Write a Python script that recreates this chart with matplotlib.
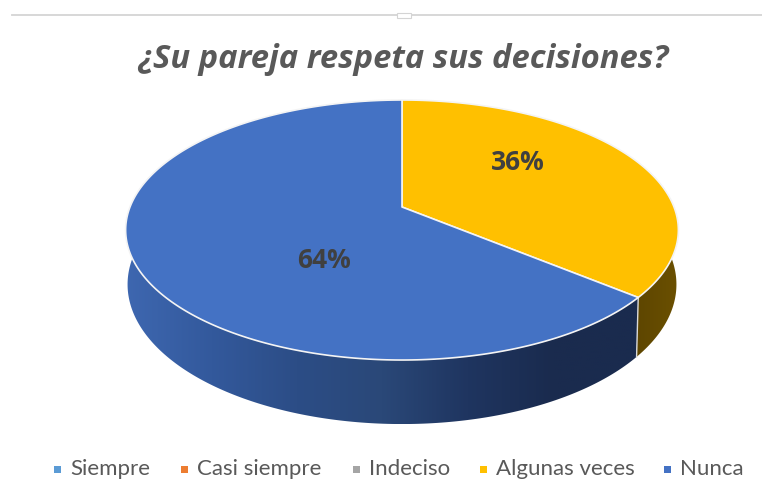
import numpy as np
import matplotlib
matplotlib.use('Agg')
import matplotlib.pyplot as plt
from matplotlib.colors import LinearSegmentedColormap
from matplotlib.patches import Polygon

title = '¿Su pareja respeta sus decisiones?'
categories = ['Siempre', 'Casi siempre', 'Indeciso', 'Algunas veces', 'Nunca']
values = [0, 0, 0, 36, 64]
colors = ['#5B9BD5', '#ED7D31', '#A5A5A5', '#FFC000', '#4472C4']
legend_x = [57, 184, 356, 483, 667]

# perspective of the pie top, fitted by eye on the reference
cx, cy = 402, 207
R = 272
c = 0.177
a = -89.3
depth = 52.7


def top_rim(theta):
    # theta runs clockwise from 12 o'clock
    u, v = np.sin(theta), np.cos(theta)
    d = 1 + c * v
    return cx + R * u / d, (a * v + cy) / d


def low_rim(theta):
    x, y = top_rim(theta)
    return cx + (x - cx) * 0.993, y + depth / (1 + c * np.cos(theta))


fig = plt.figure(figsize=(7.62, 4.8), dpi=100)
ax = fig.add_axes([0, 0, 1, 1])
ax.set_xlim(0, 762)
ax.set_ylim(480, 0)
ax.axis('off')

# thin frame line on top with the little handle
ax.plot([12, 762], [14.5, 14.5], color='#d4d4d4', lw=1.3, zorder=1)
ax.add_patch(plt.Rectangle((397, 13), 14, 5, fc='white', ec='#d4d4d4', lw=0.8, zorder=2))

side_cmaps = {
    '#FFC000': LinearSegmentedColormap.from_list('s1', ['#5e4600', '#6b5000']),
    '#4472C4': LinearSegmentedColormap.from_list('s2', ['#3e67b0', '#33599c', '#2c4d86', '#2a4878', '#1f3560', '#1a2b4e', '#1a2b4e']),
}

total = sum(values)
start = 0.0
slices = []
for val, col in zip(values, colors):
    if val == 0:
        continue
    end = start + val / total * 2 * np.pi
    slices.append((start, end, col))
    start = end

# side wall first, only the part facing us
for s, e, col in slices:
    lo, hi = max(s, np.pi * 0.42), min(e, np.pi * 1.58)
    if lo >= hi:
        continue
    th = np.linspace(lo, hi, 200)
    xt, yt = top_rim(th)
    xb, yb = low_rim(th)
    pts = np.r_[np.c_[xt, yt], np.c_[xb, yb][::-1]]
    patch = Polygon(pts, closed=True, fc='none', ec='none')
    ax.add_patch(patch)
    grad = np.linspace(0, 1, 256)[None, :]
    im = ax.imshow(grad, cmap=side_cmaps[col], extent=[pts[:, 0].min(), pts[:, 0].max(), pts[:, 1].max(), pts[:, 1].min()], aspect='auto', zorder=3)
    im.set_clip_path(patch)
ax.set_xlim(0, 762)
ax.set_ylim(480, 0)

# white seam between the walls
xa, ya = top_rim(slices[0][1])
xb_, yb_ = low_rim(slices[0][1])
ax.plot([xa, xb_], [ya, yb_], color='#d9d9d9', lw=1.0, zorder=4)

# top faces
for s, e, col in slices:
    th = np.linspace(s, e, 300)
    xt, yt = top_rim(th)
    pts = np.r_[[[cx, cy]], np.c_[xt, yt]]
    ax.add_patch(Polygon(pts, closed=True, fc=col, ec='#f4f4f4', lw=1.2, joinstyle='round', zorder=5))

# percent labels
for s, e, col, pos in zip([p[0] for p in slices], [p[1] for p in slices], [p[2] for p in slices], [(518, 162), (324, 260)]):
    ax.text(pos[0], pos[1], '%d%%' % round((e - s) / (2 * np.pi) * 100), ha='center', va='center',
            fontsize=19, fontweight='bold', family='Open Sans', color='#404040', zorder=6)

ax.text(403, 60, title, ha='center', va='center', fontsize=23.6, fontweight='bold', fontstyle='italic',
        family='Open Sans', color='#595959')

for lx, name, col in zip(legend_x, categories, colors):
    ax.add_patch(plt.Rectangle((lx - 3.5, 466), 7, 7, fc=col, ec='none'))
    ax.text(lx + 13, 469, name, ha='left', va='center', fontsize=16, family='Lato', color='#595959')

fig.savefig('out.png', dpi=100)
